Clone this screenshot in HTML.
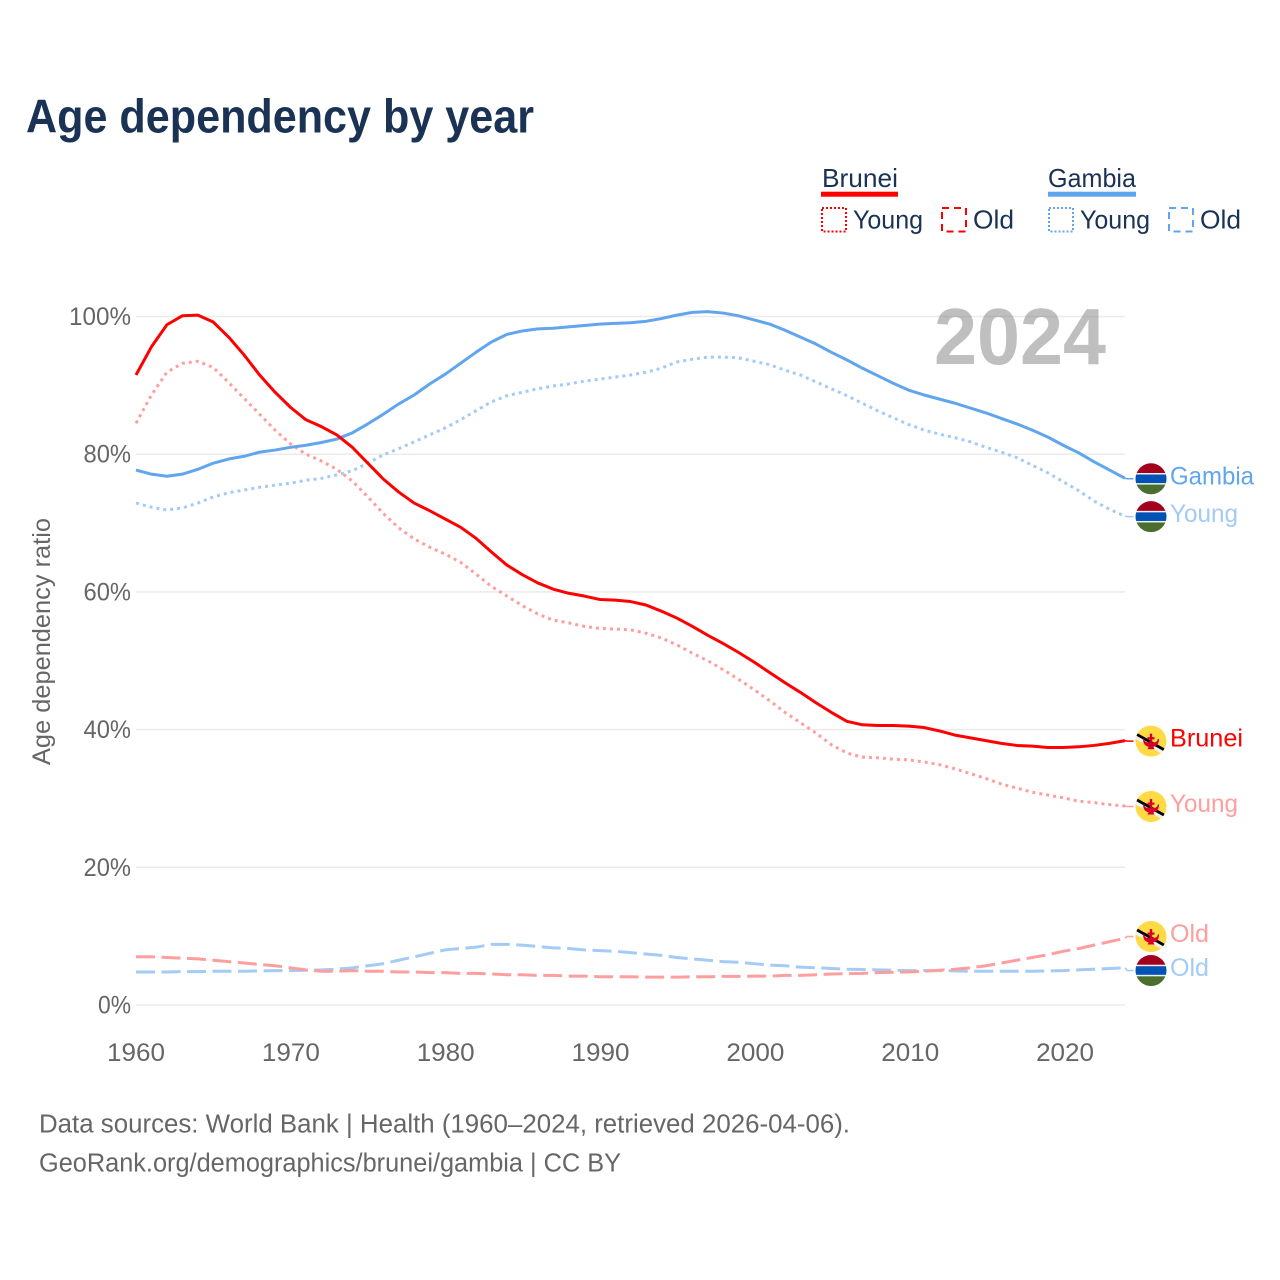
<!DOCTYPE html>
<html lang="en">
<head>
<meta charset="utf-8">
<title>Age dependency by year</title>
<style>
  html, body { margin: 0; padding: 0; background: #fff; }
  svg { display: block; }
  text { font-family: "Liberation Sans", "DejaVu Sans", sans-serif; }
</style>
</head>
<body>
<svg id="chart" xmlns="http://www.w3.org/2000/svg" width="1280" height="1280" viewBox="0 0 1280 1280">
  <defs>
    <clipPath id="flag-clip"><circle cx="0" cy="0" r="15.5"></circle></clipPath>
    <g id="flag-gambia" clip-path="url(#flag-clip)">
      <rect x="-16" y="-16" width="32" height="32" fill="#f0f0f0"></rect>
      <rect x="-16" y="-16" width="32" height="10.200" fill="#a2001d"></rect>
      <rect x="-16" y="-4.300" width="32" height="8.600" fill="#0052b4"></rect>
      <rect x="-16" y="5.800" width="32" height="10.200" fill="#496e2d"></rect>
    </g>
    <g id="flag-brunei" clip-path="url(#flag-clip)">
      <rect x="-16" y="-16" width="32" height="32" fill="#ffda44"></rect>
      <path d="M-16 -7.500 L16 10.500" stroke="#000" stroke-width="3.200" fill="none"></path>
      <path d="M-16 -4.300 L16 13.700" stroke="#f0f0f0" stroke-width="3.200" fill="none"></path>
      <path d="M-1.200 -7.500 h2.400 v3.500 h2.300 v2.200 h-2.300 v3 h2.200 q2.900 0 3.400 -3.400 l1.200 0 q0 6.800 -5.700 8 l1.200 2.200 h-7 l1.200 -2.200 q-5.700 -1.200 -5.700 -8 l1.200 0 q0.500 3.400 3.400 3.400 h2.200 v-3 h-2.300 v-2.200 h2.300 z" fill="#d80027"></path>
    </g>
  </defs>

  <text x="26" y="132.500" font-size="47" font-weight="700" fill="#1a3354" textLength="508" lengthAdjust="spacingAndGlyphs">Age dependency by year</text>

  <g fill="#1a3354" font-size="26">
    <text x="822" y="187" textLength="76" lengthAdjust="spacingAndGlyphs">Brunei</text>
    <rect x="821" y="191.700" width="77" height="5" fill="#ff0000"></rect>
    <rect x="822" y="208" width="24" height="23.500" fill="none" stroke="#ff0000" stroke-width="2" stroke-dasharray="2 2"></rect>
    <text x="853" y="228.500" textLength="70" lengthAdjust="spacingAndGlyphs">Young</text>
    <rect x="942" y="208" width="24" height="23.500" fill="none" stroke="#ff0000" stroke-width="2" stroke-dasharray="7 5"></rect>
    <text x="973" y="228.500" textLength="41" lengthAdjust="spacingAndGlyphs">Old</text>

    <text x="1048" y="187" textLength="88" lengthAdjust="spacingAndGlyphs">Gambia</text>
    <rect x="1048" y="191.700" width="88" height="5" fill="#60a5ee"></rect>
    <rect x="1049" y="208" width="24" height="23.500" fill="none" stroke="#60a5ee" stroke-width="2" stroke-dasharray="2 2"></rect>
    <text x="1080" y="228.500" textLength="70" lengthAdjust="spacingAndGlyphs">Young</text>
    <rect x="1169" y="208" width="24" height="23.500" fill="none" stroke="#60a5ee" stroke-width="2" stroke-dasharray="7 5"></rect>
    <text x="1200" y="228.500" textLength="41" lengthAdjust="spacingAndGlyphs">Old</text>
  </g>

  <g id="grid-layer"></g>
  <text x="934" y="364" font-size="80" font-weight="700" fill="#808080" fill-opacity="0.5" textLength="172" lengthAdjust="spacingAndGlyphs">2024</text>
  <g id="y-tick-layer"></g>
  <g id="x-tick-layer"></g>
  <text transform="translate(50 765) rotate(-90)" x="0" y="0" font-size="25" fill="#666666" textLength="247" lengthAdjust="spacingAndGlyphs">Age dependency ratio</text>
  <g id="series-layer"></g>
  <g id="label-layer"></g>

  <text x="39" y="1132.500" font-size="25.500" fill="#666666" textLength="811" lengthAdjust="spacingAndGlyphs">Data sources: World Bank | Health (1960–2024, retrieved 2026-04-06).</text>
  <text x="39" y="1171.500" font-size="25.500" fill="#666666" textLength="582" lengthAdjust="spacingAndGlyphs">GeoRank.org/demographics/brunei/gambia | CC BY</text>
</svg>

<script>
const startYear = 1960;
const endYear = 2024;
const yTickValues = [0, 20, 40, 60, 80, 100];
const xTickValues = [1960, 1970, 1980, 1990, 2000, 2010, 2020];

const bruneiTotal = [91.5,95.6,98.8,100.1,100.2,99.2,97.0,94.4,91.5,89.0,86.8,85.0,84.0,82.8,81.0,78.7,76.4,74.5,72.9,71.8,70.6,69.4,67.8,65.8,63.9,62.5,61.3,60.4,59.8,59.4,58.9,58.8,58.6,58.1,57.2,56.2,55.0,53.7,52.5,51.2,49.8,48.3,46.8,45.4,43.9,42.5,41.2,40.7,40.6,40.6,40.5,40.3,39.8,39.2,38.8,38.4,38.0,37.7,37.6,37.4,37.4,37.5,37.7,38.0,38.4];
const bruneiYoung = [84.5,88.6,91.9,93.2,93.5,92.6,90.4,88.1,85.8,83.5,81.5,80.0,79.0,77.8,76.1,73.8,71.4,69.3,67.7,66.5,65.5,64.3,62.6,60.8,59.4,58.0,56.8,55.9,55.5,55.0,54.7,54.6,54.5,54.0,53.3,52.3,51.1,50.0,48.7,47.3,45.8,44.2,42.5,41.0,39.5,37.8,36.6,36.0,35.9,35.7,35.6,35.3,34.9,34.3,33.6,32.9,32.1,31.5,30.9,30.5,30.1,29.6,29.4,29.1,28.9];
const bruneiOld = [7.0,7.0,6.9,6.8,6.7,6.5,6.3,6.1,5.9,5.7,5.4,5.1,4.9,4.9,5.0,4.9,4.9,4.8,4.8,4.7,4.7,4.6,4.6,4.5,4.4,4.4,4.3,4.3,4.2,4.2,4.1,4.1,4.1,4.05,4.05,4.05,4.1,4.1,4.15,4.15,4.2,4.2,4.3,4.3,4.4,4.5,4.55,4.6,4.7,4.75,4.8,4.9,5.05,5.2,5.4,5.7,6.1,6.5,6.9,7.3,7.8,8.2,8.7,9.2,9.7];

const gambiaTotal = [77.7,77.1,76.8,77.1,77.8,78.7,79.3,79.7,80.3,80.6,81.0,81.3,81.7,82.2,83.1,84.4,85.8,87.3,88.6,90.2,91.6,93.2,94.8,96.3,97.4,97.9,98.2,98.3,98.5,98.7,98.9,99.0,99.1,99.3,99.7,100.2,100.6,100.7,100.5,100.1,99.5,98.9,98.0,97.0,96.0,94.8,93.7,92.5,91.4,90.3,89.3,88.6,88.0,87.4,86.7,86.0,85.2,84.4,83.5,82.5,81.3,80.2,78.9,77.7,76.5];
const gambiaYoung = [72.9,72.3,71.9,72.2,72.9,73.8,74.4,74.8,75.2,75.5,75.8,76.2,76.5,77.0,77.6,78.7,79.9,80.8,81.8,82.8,83.8,85.0,86.3,87.6,88.5,89.0,89.5,89.9,90.2,90.6,90.9,91.2,91.5,91.9,92.5,93.4,93.8,94.1,94.1,94.0,93.5,93.0,92.2,91.5,90.5,89.5,88.5,87.4,86.3,85.3,84.3,83.5,82.9,82.4,81.8,81.0,80.3,79.5,78.4,77.3,76.0,74.7,73.2,72.0,71.0];
const gambiaOld = [4.8,4.8,4.8,4.85,4.85,4.9,4.9,4.9,4.95,5.0,5.0,5.05,5.1,5.2,5.4,5.7,6.0,6.5,7.0,7.5,8.0,8.2,8.4,8.8,8.8,8.7,8.5,8.3,8.2,8.0,7.9,7.8,7.6,7.4,7.2,6.9,6.7,6.5,6.3,6.2,6.0,5.8,5.7,5.5,5.4,5.3,5.2,5.15,5.1,5.05,5.0,5.0,5.0,4.95,4.9,4.9,4.9,4.9,4.9,4.95,5.0,5.1,5.2,5.3,5.4];

const NS = 'http://www.w3.org/2000/svg';
const plotLeft = 136;
const plotRight = 1125;
const tickRight = 1127;
const plotZero = 1005;
const plotHundred = 316.5;
const connectorEnd = 1133.5;
const flagX = 1151;
const labelX = 1170;
const minLabelGap = 34;

function xScale(year) {
  return plotLeft + (year - startYear) / (endYear - startYear) * (plotRight - plotLeft);
}
function xTickScale(year) {
  return plotLeft + (year - startYear) / (endYear - startYear) * (tickRight - plotLeft);
}
function yScale(value) {
  return plotZero - value / 100 * (plotZero - plotHundred);
}
function make(tag, attrs, parent) {
  const el = document.createElementNS(NS, tag);
  for (const k in attrs) el.setAttribute(k, attrs[k]);
  parent.appendChild(el);
  return el;
}

const gridLayer = document.getElementById('grid-layer');
const yTickLayer = document.getElementById('y-tick-layer');
const xTickLayer = document.getElementById('x-tick-layer');
const seriesLayer = document.getElementById('series-layer');
const labelLayer = document.getElementById('label-layer');

yTickValues.forEach(function (v) {
  const line = make('line', { x1: plotLeft, x2: plotRight, y1: yScale(v), y2: yScale(v), stroke: '#ebebeb', 'stroke-width': 1.5 }, gridLayer);
  
  
  const label = v + '%';
  const t = make('text', { x: 131, y: yScale(v) + 8.5, 'text-anchor': 'end', 'font-size': 25, fill: '#666666', textLength: 14.5 * label.length + 4, lengthAdjust: 'spacingAndGlyphs' }, yTickLayer);
  
  
  t.textContent = label;
});

xTickValues.forEach(function (year) {
  const t = make('text', { x: xTickScale(year), y: 1061, 'text-anchor': 'middle', 'font-size': 25, fill: '#666666', textLength: 58, lengthAdjust: 'spacingAndGlyphs' }, xTickLayer);
  
  
  t.textContent = year;
});

const seriesList = [
  { id: 'gambia-old', label: 'Old', flag: 'gambia', color: '#a3cbf5', dash: '19 6.500', width: 3, values: gambiaOld },
  { id: 'brunei-old', label: 'Old', flag: 'brunei', color: '#ff9e9e', dash: '19 6.500', width: 3, values: bruneiOld },
  { id: 'gambia-young', label: 'Young', flag: 'gambia', color: '#a3cbf5', dash: '3 4', width: 3, values: gambiaYoung },
  { id: 'brunei-young', label: 'Young', flag: 'brunei', color: '#ff9e9e', dash: '3 4', width: 3, values: bruneiYoung },
  { id: 'gambia-total', label: 'Gambia', flag: 'gambia', color: '#60a5ee', dash: '', width: 3, values: gambiaTotal },
  { id: 'brunei-total', label: 'Brunei', flag: 'brunei', color: '#ff0000', dash: '', width: 3, values: bruneiTotal }
];

function dodgeLabels(list) {
  const items = list.map(function (s) {
    return { s: s, y: yScale(s.values[s.values.length - 1]) + 0.5 };
  }).sort(function (a, b) { return a.y - b.y; });
  for (let pass = 0; pass < 20; pass++) {
    for (let i = 1; i < items.length; i++) {
      const gap = items[i].y - items[i - 1].y;
      if (gap < minLabelGap) {
        const push = (minLabelGap - gap) / 2;
        items[i].y += push;
        items[i - 1].y -= push;
      }
    }
  }
  return items;
}

const labelPlacement = new Map();
dodgeLabels(seriesList).forEach(function (it) { labelPlacement.set(it.s.id, it.y); });

const labelFit = { Gambia: 84, Brunei: 73, Young: 68, Old: 39 };

seriesList.forEach(function (s) {
  const ly = labelPlacement.get(s.id);
  const pts = s.values.map(function (v, i) {
    return xScale(startYear + i).toFixed(2) + ' ' + yScale(v).toFixed(2);
  });
  const attrs = { d: 'M' + pts.join(' L'), fill: 'none', stroke: s.color, 'stroke-width': s.width, 'stroke-linejoin': 'round' };
  if (s.dash) attrs['stroke-dasharray'] = s.dash;
  const path = make('path', attrs, seriesLayer);
  
  

  const lastY = yScale(s.values[s.values.length - 1]);
  const link = make('path', { d: 'M' + plotRight + ' ' + lastY.toFixed(2) + ' L' + (plotRight + 2) + ' ' + ly.toFixed(2) + ' L' + connectorEnd + ' ' + ly.toFixed(2), fill: 'none', stroke: s.color, 'stroke-width': 1.5 }, seriesLayer);
  
  

  const flag = make('use', { href: '#flag-' + s.flag, transform: 'translate(' + flagX + ' ' + ly.toFixed(2) + ')' }, labelLayer);
  
  

  const t = make('text', { x: labelX, y: (ly + 5.5).toFixed(2), 'font-size': 25, fill: s.color, textLength: labelFit[s.label], lengthAdjust: 'spacingAndGlyphs' }, labelLayer);
  
  
  t.textContent = s.label;
});
</script>
</body>
</html>
